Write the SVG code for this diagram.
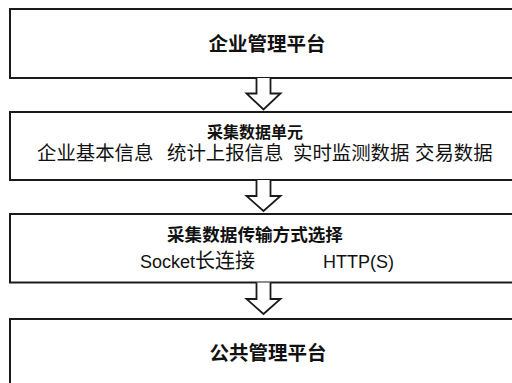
<svg xmlns="http://www.w3.org/2000/svg" width="512" height="383" viewBox="0 0 512 383">
<style>
.box{fill:#fff;stroke:#1a1a1a;stroke-width:2}
.arr{fill:#fff;stroke:#1a1a1a;stroke-width:1.8;stroke-linejoin:miter}
.t{font-family:"Liberation Sans","Noto Sans CJK SC",sans-serif;fill:#111}
.b{font-weight:bold}
</style>
<rect width="512" height="383" fill="#fff"/>
<g id="node-enterprise">
<rect class="box" x="10" y="9" width="520" height="69"/>
<text class="t b" x="267" y="51" font-size="19.5" text-anchor="middle">企业管理平台</text>
</g>
<g id="node-collect">
<rect class="box" x="10" y="112" width="520" height="68"/>
<text class="t b" x="255" y="138" font-size="16" text-anchor="middle">采集数据单元</text>
<text class="t" y="160" font-size="19.4"><tspan x="37">企业基本信息</tspan><tspan x="167">统计上报信息</tspan><tspan x="293">实时监测数据</tspan><tspan x="415">交易数据</tspan></text>
</g>
<g id="node-transfer">
<rect class="box" x="10" y="214" width="520" height="68.5"/>
<text class="t b" x="255" y="241" font-size="17.6" text-anchor="middle">采集数据传输方式选择</text>
<text class="t" y="268" font-size="18"><tspan x="140">Socket</tspan><tspan font-size="20">长连接</tspan><tspan x="323">HTTP(S)</tspan></text>
</g>
<g id="node-public">
<rect class="box" x="10" y="319" width="520" height="100"/>
<text class="t b" x="268" y="360" font-size="19.5" text-anchor="middle">公共管理平台</text>
</g>
<g id="connectors">
<path class="arr" d="M256.5 78 V93.5 H246.5 L263.5 109.5 L280.5 93.5 H270.5 V78"/>
<path class="arr" d="M256.5 180 V196 H246.5 L263.5 211 L280.5 196 H270.5 V180"/>
<path class="arr" d="M256.5 282.5 V299 H246.5 L263.5 314 L280.5 299 H270.5 V282.5"/>
</g>
</svg>
